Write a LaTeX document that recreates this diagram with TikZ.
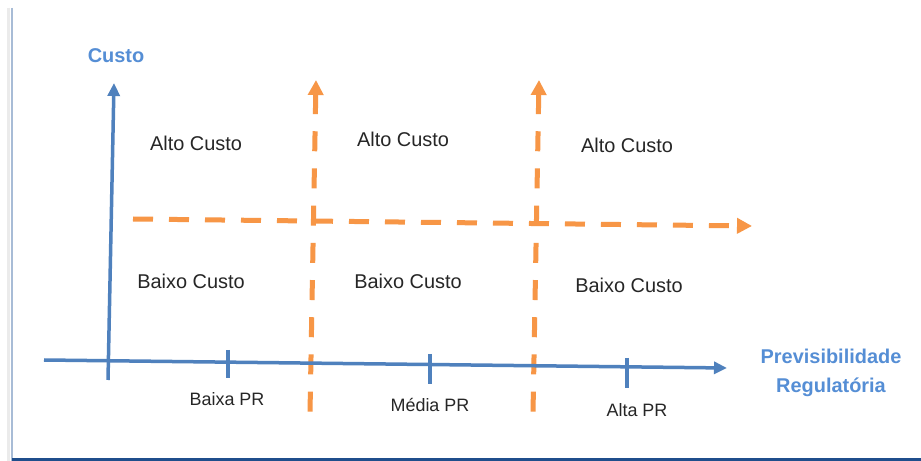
\documentclass[tikz,border=0pt]{standalone}
\usepackage{fontspec}
\setmainfont{Liberation Sans}
\usetikzlibrary{arrows.meta}
\definecolor{axblue}{RGB}{79,129,189}
\definecolor{lblblue}{RGB}{85,142,213}
\definecolor{orng}{RGB}{247,150,70}
\definecolor{framel}{RGB}{168,188,214}
\definecolor{frameb}{RGB}{31,78,140}
\tikzset{
  x=1bp, y=-1bp,
  axis/.style={draw=axblue, line width=3.5bp, -{Triangle[length=13bp,width=12bp]}},
  tick/.style={draw=axblue, line width=3.5bp},
  divider/.style={draw=orng, line width=5bp, dash pattern=on 20bp off 16bp},
  vdivider/.style={draw=orng, line width=5bp, dash pattern=on 20bp off 17.2bp},
  ortip/.style={-{Triangle[length=15bp,width=15bp]}},
  ortipstart/.style={{Triangle[length=15bp,width=15bp]}-},
  region/.style={font=\fontsize{20}{24}\selectfont, inner sep=0pt, text=black!85},
  level/.style={font=\fontsize{18}{21}\selectfont, inner sep=0pt, text=black!85},
  axlabel/.style={font=\fontsize{20}{29}\selectfont\bfseries, text=lblblue, inner sep=0pt, align=center},
}
\begin{document}
\begin{tikzpicture}
\useasboundingbox (0,0) rectangle (921,461);
\fill[white] (0,0) rectangle (921,461);
% frame
\draw[black!8, line width=3bp] (8,8) -- (8,461);
\draw[framel, line width=2bp] (12,8) -- (12,461);
\draw[frameb, line width=3bp] (12,459.5) -- (921,459.5);

% coordinates
\coordinate (xs) at (44,360);
\coordinate (xe) at (727,368);
\coordinate (ys) at (108,380);
\coordinate (ye) at (114,83);
\coordinate (h1s) at (133,219);
\coordinate (h1e) at (752,226);
\coordinate (v1s) at (310,413);
\coordinate (v1e) at (316,80);
\coordinate (v2s) at (533,413);
\coordinate (v2e) at (539,80);
\coordinate (t1a) at (228,350);
\coordinate (t1b) at (228,378);
\coordinate (t2a) at (430,354);
\coordinate (t2b) at (430,384);
\coordinate (t3a) at (627,358);
\coordinate (t3b) at (627,388);

% orange dividers
\draw[divider, ortip] (h1s) -- (h1e);
\draw[vdivider, ortipstart] (v1e) -- (v1s);
\draw[vdivider, ortipstart] (v2e) -- (v2s);

% axes
\draw[axis] (xs) -- (xe);
\draw[axis] (ys) -- (ye);
\draw[tick] (t1a) -- (t1b);
\draw[tick] (t2a) -- (t2b);
\draw[tick] (t3a) -- (t3b);

% labels
\node[axlabel] (custo) at (116,56) {Custo};
\node[axlabel] (prev) at (831,373) {Previsibilidade\\Regulatória};

\node[region] (a1) at (196,143) {Alto Custo};
\node[region] (a2) at (403,139) {Alto Custo};
\node[region] (a3) at (627,145) {Alto Custo};
\node[region] (b1) at (191,281) {Baixo Custo};
\node[region] (b2) at (408,281) {Baixo Custo};
\node[region] (b3) at (629,285) {Baixo Custo};

\node[level] (l1) at (227,399) {Baixa PR};
\node[level] (l2) at (430,405) {Média PR};
\node[level] (l3) at (637,410) {Alta PR};
\end{tikzpicture}
\end{document}
